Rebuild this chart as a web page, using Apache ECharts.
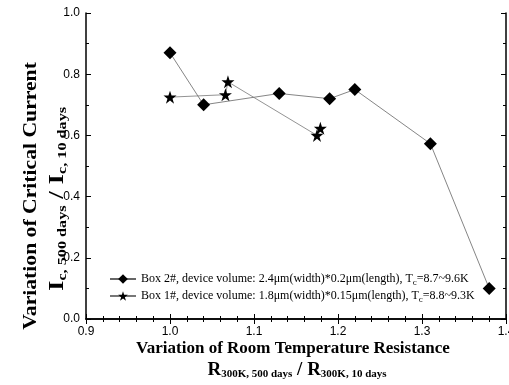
<!DOCTYPE html>
<html>
<head>
<meta charset="utf-8">
<style>
  html, body { margin: 0; padding: 0; background: #fff; }
  #chart { width: 509px; height: 385px; }
</style>
</head>
<body>
<div id="chart"></div>
<script src="https://cdn.jsdelivr.net/npm/echarts@6/dist/echarts.min.js"></script>
<script>
  // values
  var box2X = [1.0, 1.04, 1.13, 1.19, 1.22, 1.31, 1.38];
  var box2Y = [0.87, 0.70, 0.737, 0.72, 0.75, 0.573, 0.10];
  var box1X = [1.0, 1.066, 1.069, 1.175, 1.179];
  var box1Y = [0.725, 0.733, 0.775, 0.60, 0.623];
  var box2Name = 'Box 2#, device volume: 2.4μm(width)*0.2μm(length), T{s|c}=8.7~9.6K';
  var box1Name = 'Box 1#, device volume: 1.8μm(width)*0.15μm(length), T{s|c}=8.8~9.3K';

  function pairs(xs, ys) {
    return xs.map(function (x, i) { return [x, ys[i]]; });
  }

  var serif = '"Liberation Serif", "Times New Roman", serif';
  var sans = '"Liberation Sans", Arial, sans-serif';
  var axisBase = {
    type: 'value',
    axisLine: { show: true, lineStyle: { color: '#000', width: 1.5 } },
    axisTick: { show: true, inside: true, length: 5, lineStyle: { color: '#000' } },
    minorTick: { show: true, length: 3, lineStyle: { color: '#000' } },
    splitLine: { show: false }
  };

  var myChart = echarts.init(document.getElementById('chart'));
  var option = {
    animation: false,
    backgroundColor: '#fff',
    grid: { left: 86, right: 3, top: 13, bottom: 66, outerBoundsMode: 'none', containLabel: false },
    xAxis: [
      echarts.util.merge({
        min: 0.9, max: 1.4, interval: 0.1, position: 'bottom',
        minorTick: { splitNumber: 5 },
        axisLabel: { color: '#000', fontFamily: sans, fontSize: 12, margin: 7, formatter: function (v) { return v.toFixed(1); } }
      }, axisBase, true),
      echarts.util.merge({
        min: 0.9, max: 1.4, interval: 0.1, position: 'top',
        minorTick: { splitNumber: 5 },
        axisLabel: { show: false }
      }, axisBase, true)
    ],
    yAxis: [
      echarts.util.merge({
        min: 0, max: 1.0, interval: 0.2, position: 'left',
        minorTick: { splitNumber: 2 },
        axisLabel: { color: '#000', fontFamily: sans, fontSize: 12, margin: 6, formatter: function (v) { return v.toFixed(1); } }
      }, axisBase, true),
      echarts.util.merge({
        min: 0, max: 1.0, interval: 0.2, position: 'right',
        minorTick: { splitNumber: 2 },
        axisLabel: { show: false }
      }, axisBase, true)
    ],
    legend: {
      orient: 'vertical',
      left: 104,
      top: 268,
      itemGap: 3,
      itemWidth: 26,
      itemHeight: 12,
      data: [box2Name, box1Name],
      textStyle: {
        color: '#000', fontFamily: serif, fontSize: 12,
        rich: { s: { fontSize: 9, fontFamily: serif, padding: [7, 0, 0, 0] } }
      }
    },
    series: [
      {
        name: box2Name, type: 'line', data: pairs(box2X, box2Y),
        symbol: 'diamond', symbolSize: 13,
        itemStyle: { color: '#000' },
        lineStyle: { color: '#666', width: 0.8 }
      },
      {
        name: box1Name, type: 'line', data: pairs(box1X, box1Y),
        symbol: 'path://M50,0 L61.8,35.5 L99,35.5 L69,57.5 L80.5,93 L50,71 L19.5,93 L31,57.5 L1,35.5 L38.2,35.5 Z',
        symbolSize: 13,
        itemStyle: { color: '#000' },
        lineStyle: { color: '#777', width: 0.8 }
      }
    ],
    graphic: [
      {
        type: 'text', x: 31, y: 196, rotation: Math.PI / 2, scaleX: 1.14,
        style: { text: 'Variation of Critical Current', font: 'bold 19px ' + serif, fill: '#000', align: 'center', verticalAlign: 'middle' }
      },
      {
        type: 'text', x: 58, y: 199, rotation: Math.PI / 2, scaleX: 1.35,
        style: {
          text: '{m|I}{s|c, 500 days}{m| / I}{s|c, 10 days}', align: 'center', verticalAlign: 'middle',
          rich: {
            m: { font: 'bold 20px ' + serif, fill: '#000' },
            s: { font: 'bold 12px ' + serif, fill: '#000', padding: [9, 0, 0, 0] }
          }
        }
      },
      {
        type: 'text', x: 293, y: 349,
        style: { text: 'Variation of Room Temperature Resistance', font: 'bold 17px ' + serif, fill: '#000', align: 'center', verticalAlign: 'middle' }
      },
      {
        type: 'text', x: 297, y: 370,
        style: {
          text: '{m|R}{s|300K, 500 days}{m| / R}{s|300K, 10 days}', align: 'center', verticalAlign: 'middle',
          rich: {
            m: { font: 'bold 19px ' + serif, fill: '#000' },
            s: { font: 'bold 11px ' + serif, fill: '#000', padding: [9, 0, 0, 0] }
          }
        }
      }
    ]
  };
  myChart.setOption(option);
</script>
</body>
</html>
